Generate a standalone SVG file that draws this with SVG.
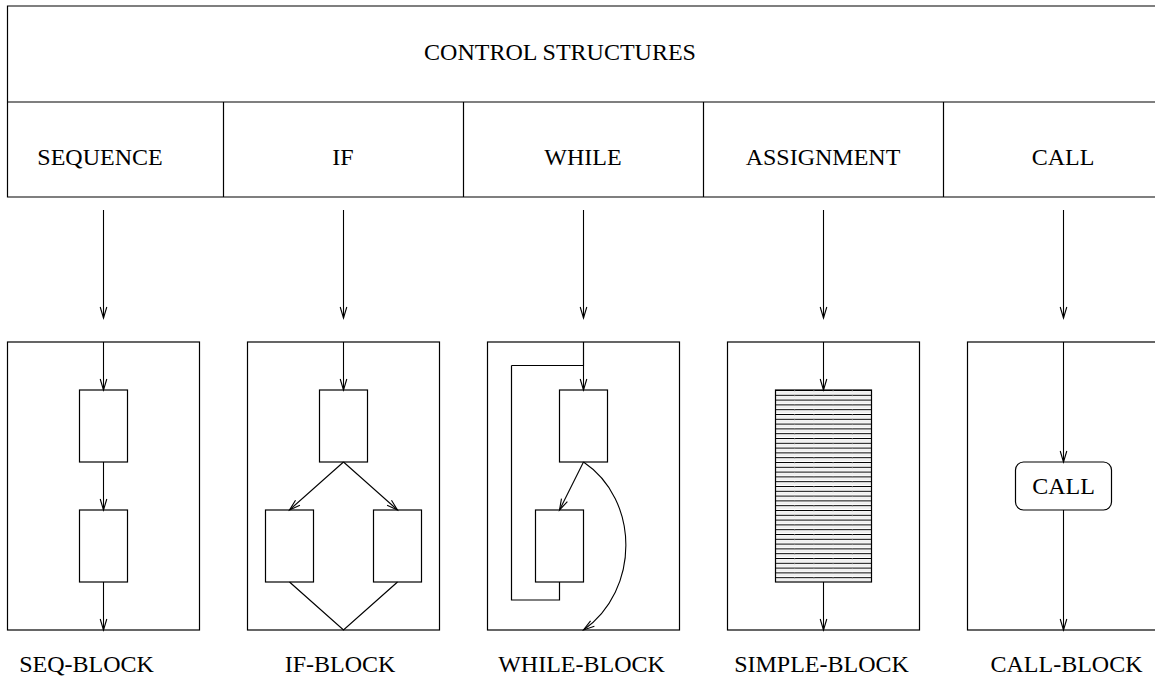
<svg xmlns="http://www.w3.org/2000/svg" width="1155" height="677" viewBox="0 0 1155 677">
  <style>
    .ln { stroke: #000; stroke-width: 1.2; fill: none; }
    .bx { stroke: #000; stroke-width: 1.2; fill: #fff; }
    .txt { font-family: "Liberation Serif", "Times New Roman", serif; font-size: 24px; fill: #000; text-anchor: middle; }
    .arr { stroke: #000; stroke-width: 1.1; fill: none; marker-end: url(#vhead); }
  </style>
  <defs>
    <marker id="vhead" markerUnits="userSpaceOnUse" markerWidth="14" markerHeight="10" viewBox="-12 -5 14 10" refX="0" refY="0" orient="auto">
      <path d="M-11,-3.3 L0,0 L-11,3.3" fill="none" stroke="#000" stroke-width="1.1"/>
    </marker>
    <!-- horizontal ruling for the simple block -->
    <pattern id="hatch" patternUnits="userSpaceOnUse" x="775.5" y="390" width="19.2" height="4.8">
      <rect width="19.2" height="4.8" fill="#fff"/>
      <line x1="0" y1="0.5" x2="19.2" y2="0.5" stroke="#000" stroke-width="1"/>
      <line x1="0" y1="2.9" x2="19.2" y2="2.9" stroke="#ccc" stroke-width="0.6"/>
    </pattern>
  </defs>

  <!-- header table -->
  <g id="header">
    <path class="ln" d="M1160,6 H7.5 V197 H1160 M7.5,102 H1160 M223.5,102 V197 M463.5,102 V197 M703.5,102 V197 M943.5,102 V197"/>
    <text class="txt" x="560" y="60">CONTROL STRUCTURES</text>
  </g>
  <g id="h-sequence"><text class="txt" x="100" y="165">SEQUENCE</text></g>
  <g id="h-if"><text class="txt" x="343" y="165">IF</text></g>
  <g id="h-while"><text class="txt" x="583" y="165">WHILE</text></g>
  <g id="h-assignment"><text class="txt" x="823" y="165">ASSIGNMENT</text></g>
  <g id="h-call"><text class="txt" x="1063" y="165">CALL</text></g>

  <!-- SEQ-BLOCK -->
  <g id="seq-block">
    <rect class="bx" x="7.5" y="342" width="192" height="288"/>
    <rect class="bx" x="79.5" y="390" width="48" height="72"/>
    <rect class="bx" x="79.5" y="510" width="48" height="72"/>
    <text class="txt" x="86.5" y="672">SEQ-BLOCK</text>
  </g>

  <!-- IF-BLOCK -->
  <g id="if-block">
    <rect class="bx" x="247.5" y="342" width="192" height="288"/>
    <rect class="bx" x="319.5" y="390" width="48" height="72"/>
    <rect class="bx" x="265.5" y="510" width="48" height="72"/>
    <rect class="bx" x="373.5" y="510" width="48" height="72"/>
    <text class="txt" x="340" y="672">IF-BLOCK</text>
  </g>

  <!-- WHILE-BLOCK -->
  <g id="while-block">
    <rect class="bx" x="487.5" y="342" width="192" height="288"/>
    <rect class="bx" x="559.5" y="390" width="48" height="72"/>
    <rect class="bx" x="535.5" y="510" width="48" height="72"/>
    <text class="txt" x="581.5" y="672">WHILE-BLOCK</text>
  </g>

  <!-- SIMPLE-BLOCK -->
  <g id="simple-block">
    <rect class="bx" x="727.5" y="342" width="192" height="288"/>
    <rect x="775.5" y="390" width="96" height="192" fill="url(#hatch)" stroke="#000" stroke-width="1.2"/>
    <path d="M794.7,390 V582 M813.9,390 V582 M833.1,390 V582 M852.3,390 V582" stroke="#999" stroke-width="0.7" stroke-dasharray="1.5 3.3"/>
    <text class="txt" x="821.5" y="672">SIMPLE-BLOCK</text>
  </g>

  <!-- CALL-BLOCK -->
  <g id="call-block">
    <rect class="bx" x="967.5" y="342" width="192" height="288"/>
    <rect class="bx" x="1015.5" y="462" width="96" height="48" rx="8" ry="8"/>
    <text class="txt" x="1063.5" y="494">CALL</text>
    <text class="txt" x="1066.5" y="672">CALL-BLOCK</text>
  </g>

  <!-- connectors -->
  <g id="connectors">
    <!-- header to blocks -->
    <path class="arr" d="M103.5,210 V318"/>
    <path class="arr" d="M343.5,210 V318"/>
    <path class="arr" d="M583.5,210 V318"/>
    <path class="arr" d="M823.5,210 V318"/>
    <path class="arr" d="M1063.5,210 V318"/>

    <!-- sequence -->
    <path class="arr" d="M103.5,342 V390"/>
    <path class="arr" d="M103.5,462 V510"/>
    <path class="arr" d="M103.5,582 V630"/>

    <!-- if -->
    <path class="arr" d="M343.5,342 V390"/>
    <path class="arr" d="M343.5,462 L289.5,510"/>
    <path class="arr" d="M343.5,462 L397.5,510"/>
    <path class="ln" d="M289.5,582 L343.5,630 L397.5,582"/>

    <!-- while -->
    <path class="ln" d="M583.5,342 V365.5"/>
    <path class="arr" d="M511.5,365.5 H583.5 V390"/>
    <path class="ln" d="M559.5,582 V600 H511.5 V365.5"/>
    <path class="arr" d="M583.5,462 L559.5,510"/>
    <path class="arr" d="M583.5,462 C640,500 640,590 583.5,630"/>

    <!-- simple -->
    <path class="arr" d="M823.5,342 V390"/>
    <path class="arr" d="M823.5,582 V630"/>

    <!-- call -->
    <path class="arr" d="M1063.5,342 V462"/>
    <path class="arr" d="M1063.5,510 V630"/>
  </g>
</svg>
